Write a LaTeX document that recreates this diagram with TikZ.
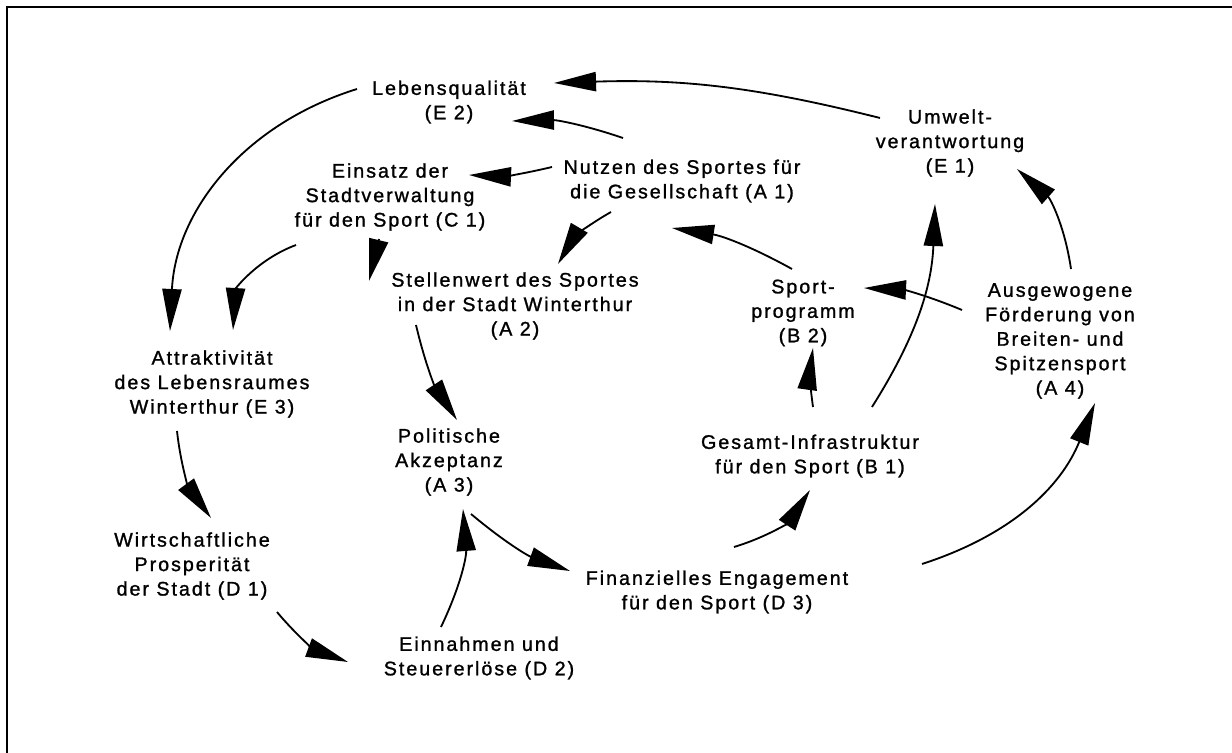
\documentclass[tikz,border=0pt]{standalone}
\usepackage{fontspec}
\newfontfamily\lblfont{Liberation Sans}[LetterSpace=10,FakeBold=1.2]
\usepackage{tikz}
\usetikzlibrary{arrows.meta,calc}

\begin{document}
\begin{tikzpicture}[x=0.025cm,y=0.025cm,
    every node/.style={align=center,inner sep=0pt,
      font=\lblfont\fontsize{14}{17.4}\selectfont},
    pfeil/.style={line width=1.3pt,
      -{Triangle[length=1.05cm,width=0.48cm]}}]
        \useasboundingbox (0,0) rectangle (1232,-753);
        \draw [line width=1.5pt] (1232,-7) -- (7,-7) -- (7,-753);

        % Knoten
        \node (e2) at (449,-102) {Lebensqualität\\(E 2)};
        \node (e1) at (950,-143) {Umwelt-\\verantwortung\\(E 1)};
        \node (a1) at (682,-181) {Nutzen des Sportes für\\die Gesellschaft (A 1)};
        \node (c1) at (390,-197) {Einsatz der\\Stadtverwaltung\\für den Sport (C 1)};
        \node (a2) at (515,-306) {Stellenwert des Sportes\\in der Stadt Winterthur\\(A 2)};
        \node (b2) at (803,-313) {Sport-\\programm\\(B 2)};
        \node (a4) at (1060,-341) {Ausgewogene\\Förderung von\\Breiten- und\\Spitzensport\\(A 4)};
        \node (e3) at (212,-384) {Attraktivität\\des Lebensraumes\\Winterthur (E 3)};
        \node (a3) at (449,-462) {Politische\\Akzeptanz\\(A 3)};
        \node (b1) at (810,-456) {Gesamt-Infrastruktur\\für den Sport (B 1)};
        \node (d1) at (192,-566) {Wirtschaftliche\\Prosperität\\der Stadt (D 1)};
        \node (d3) at (717,-592) {Finanzielles Engagement\\für den Sport (D 3)};
        \node (d2) at (479,-658) {Einnahmen und\\Steuererlöse (D 2)};

        % Wirkungen
        \draw [pfeil] ($(e1)+(-70,25)$) to[bend right=8] ($(e2)+(105,19)$);
        \draw [pfeil] ($(a1)+(-59,43)$) to[bend right=10] ($(e2)+(63,-19)$);
        \draw [pfeil] ($(a1)+(-130,14)$) to[bend left=8] ($(c1)+(79,22)$);
        \draw [pfeil] ($(a1)+(-71,-31)$) to[bend right=15] ($(a2)+(43,42)$);
        \draw [pfeil] ($(c1)+(-11,-42)$) -- ($(a2)+(-146,25)$);
        \draw [pfeil] ($(c1)+(-94,-48)$) to[bend right=33] ($(e3)+(21,54)$);
        \draw [pfeil] ($(e2)+(-92,13)$) to[bend right=35] ($(e3)+(-42,53)$);
        \draw [pfeil] ($(e3)+(-35,-47)$) to[bend right=15] ($(d1)+(19,48)$);
        \draw [pfeil] ($(d1)+(85,-46)$) to[bend right=15] ($(d2)+(-131,-4)$);
        \draw [pfeil] ($(d2)+(-38,31)$) to[bend right=15] ($(a3)+(14,-47)$);
        \draw [pfeil] ($(a3)+(22,-52)$) to[bend right=10] ($(d3)+(-147,21)$);
        \draw [pfeil] ($(a2)+(-99,-19)$) to[bend right=10] ($(a3)+(8,42)$);
        \draw [pfeil] ($(d3)+(17,45)$) to[bend right=20] ($(b1)+(0,-34)$);
        \draw [pfeil] ($(d3)+(205,28)$) to[bend right=25] ($(a4)+(35,-62)$);
        \draw [pfeil] ($(b1)+(3,49)$) to[bend left=8] ($(b2)+(10,-35)$);
        \draw [pfeil] ($(b1)+(62,49)$) to[bend right=15] ($(e1)+(-15,-61)$);
        \draw [pfeil] ($(b2)+(-11,44)$) to[bend right=10] ($(a1)+(-10,-47)$);
        \draw [pfeil] ($(a4)+(-98,31)$) to[bend right=10] ($(b2)+(61,25)$);
        \draw [pfeil] ($(a4)+(11,72)$) to[bend right=20] ($(e1)+(67,-26)$);
      \end{tikzpicture}
\end{document}
